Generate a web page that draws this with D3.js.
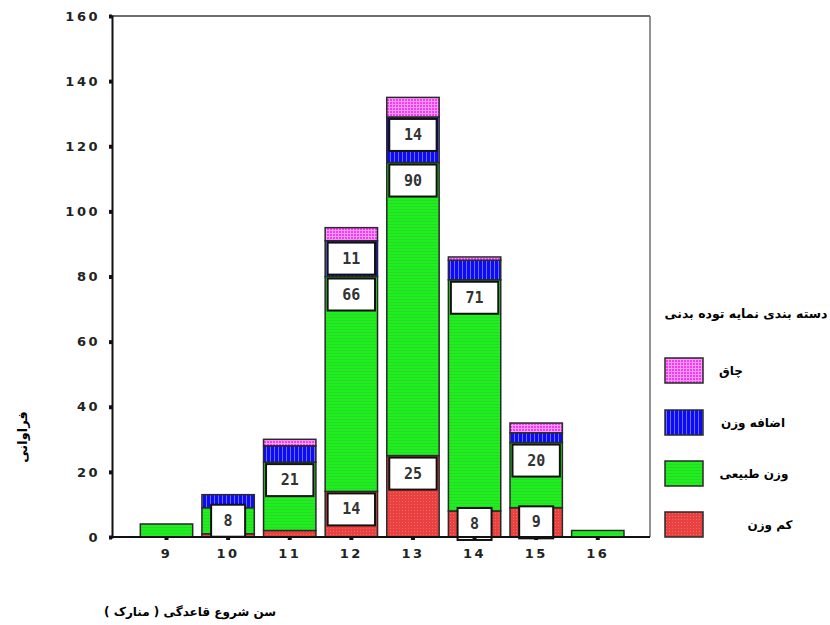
<!DOCTYPE html>
<html><head><meta charset="utf-8">
<script src="https://cdn.jsdelivr.net/npm/d3@7"></script>
<style>body{margin:0;background:#fff}svg{display:block}</style>
</head><body>
<svg id="c" width="830" height="625"></svg>
<script>
const categories = ["9","10","11","12","13","14","15","16"];
const underweight = [0, 1, 2, 14, 25, 8, 9, 0];
const normal      = [4, 8, 21, 66, 90, 71, 20, 2];
const overweight  = [0, 4, 5, 11, 14, 6, 3, 0];
const obese       = [0, 0, 2, 4, 6, 1, 3, 0];
const yTicks = [0,20,40,60,80,100,120,140,160];
const seriesNames = ["کم وزن","وزن طبیعی","اضافه وزن","چاق"];
const legendTitle = "دسته بندی نمایه توده بدنی";
const xTitle = "سن شروع قاعدگی ( منارک )";
const yTitle = "فراوانی";

const svg = d3.select("#c");
const L = 112, R = 650, T = 16, B = 537;
const y = d3.scaleLinear().domain([0,160]).range([B,T]);
const x = d3.scaleBand().domain(categories).range([135.7,628.6]).paddingInner(0.15).paddingOuter(0.075);

// patterns
const defs = svg.append("defs");
function pat(id, w, h, base, draw){
  const p = defs.append("pattern").attr("id",id).attr("patternUnits","userSpaceOnUse").attr("width",w).attr("height",h);
  p.append("rect").attr("width",w).attr("height",h).attr("fill",base);
  draw(p);
}
pat("pRed",3,3,"#e8413f",p=>{p.append("rect").attr("x",0).attr("y",0).attr("width",1).attr("height",1).attr("fill","#f06a66");});
pat("pGreen",3,3,"#1ef01e",p=>{p.append("rect").attr("x",0).attr("y",2).attr("width",3).attr("height",1).attr("fill","#2ad82a");});
pat("pBlue",4,3,"#0b0bf4",p=>{p.append("rect").attr("x",2).attr("y",0).attr("width",1).attr("height",3).attr("fill","#6c6cff");});
pat("pMag",3,3,"#f23cf2",p=>{p.append("rect").attr("x",2).attr("y",0).attr("width",1).attr("height",3).attr("fill","#ff99ff");p.append("rect").attr("x",0).attr("y",2).attr("width",3).attr("height",1).attr("fill","#ff99ff");});
const fills = ["url(#pRed)","url(#pGreen)","url(#pBlue)","url(#pMag)"];

// frame
svg.append("line").attr("x1",L).attr("x2",R).attr("y1",T).attr("y2",T).attr("stroke","#6f6f6f").attr("stroke-width",2);
svg.append("line").attr("x1",R).attr("x2",R).attr("y1",T).attr("y2",B).attr("stroke","#6f6f6f").attr("stroke-width",1.5);

// stacked data
const rows = categories.map((c,i)=>({cat:c, s0:underweight[i], s1:normal[i], s2:overweight[i], s3:obese[i]}));
const stack = d3.stack().keys(["s0","s1","s2","s3"])(rows);

const g = svg.append("g");
stack.forEach((layer,k)=>{
  g.selectAll(null).data(layer.filter(d=>d[1]-d[0]>0)).enter().append("rect")
    .attr("x",d=>x(d.data.cat)).attr("width",x.bandwidth())
    .attr("y",d=>y(d[1])).attr("height",d=>y(d[0])-y(d[1]))
    .attr("fill",fills[k]).attr("stroke","#2a2a2a").attr("stroke-width",1.5);
});

// value boxes
const boxH = 32;
stack.forEach((layer,k)=>{
  layer.forEach(d=>{
    const v = d[1]-d[0];
    if (v < 8) return;
    const top = y(d[1]), bot = y(d[0]);
    const txt = String(v);
    const w = txt.length>1 ? x.bandwidth()-5 : 34;
    let by = (bot-top) >= boxH+4 ? top+2 : (top+bot)/2 - boxH/2;
    const cx = x(d.data.cat)+x.bandwidth()/2;
    g.append("rect").attr("x",cx-w/2).attr("y",by).attr("width",w).attr("height",boxH)
      .attr("fill","#fff").attr("stroke","#111").attr("stroke-width",2);
    g.append("text").attr("x",cx).attr("y",by+boxH/2+5).attr("text-anchor","middle")
      .attr("font-family","DejaVu Sans Mono, monospace").attr("font-weight","bold").attr("font-size",15)
      .attr("fill","#333").text(txt);
  });
});

// axes
const ya = svg.append("g").attr("transform",`translate(${L},0)`)
  .call(d3.axisLeft(y).tickValues(yTicks).tickSize(3).tickPadding(9));
ya.select(".domain").attr("stroke","#111").attr("stroke-width",2);
ya.selectAll(".tick line").attr("stroke","#111").attr("stroke-width",4);
ya.selectAll(".tick text").attr("font-family","DejaVu Sans, sans-serif").attr("font-weight","bold")
  .attr("font-size",13).attr("letter-spacing","2.5px").attr("fill","#222");

const xa = svg.append("g").attr("transform",`translate(0,${B})`)
  .call(d3.axisBottom(x).tickSize(3).tickPadding(9).tickSizeOuter(0));
xa.select(".domain").remove();
svg.append("line").attr("x1",L).attr("x2",R).attr("y1",B).attr("y2",B).attr("stroke","#111").attr("stroke-width",2);
xa.selectAll(".tick line").attr("stroke","#111").attr("stroke-width",4);
xa.selectAll(".tick text").attr("font-family","DejaVu Sans, sans-serif").attr("font-weight","bold")
  .attr("font-size",13).attr("letter-spacing","2.5px").attr("fill","#222");

// titles
svg.append("text").attr("x",190).attr("y",616).attr("text-anchor","middle")
  .attr("font-family","DejaVu Sans, sans-serif").attr("font-weight","bold").attr("font-size",12)
  .attr("direction","rtl").text(xTitle);
svg.append("text").attr("transform","translate(27,437) rotate(-90)").attr("text-anchor","middle")
  .attr("font-family","DejaVu Sans, sans-serif").attr("font-weight","bold").attr("font-size",13)
  .attr("direction","rtl").text(yTitle);

// legend
svg.append("text").attr("x",746).attr("y",318).attr("text-anchor","middle")
  .attr("font-family","DejaVu Sans, sans-serif").attr("font-weight","bold").attr("font-size",12.5)
  .attr("direction","rtl").text(legendTitle);
const legY = [512, 461, 410, 358];
const legLabelX = [770, 754, 753, 731];
seriesNames.forEach((n,k)=>{
  svg.append("rect").attr("x",665).attr("y",legY[k]).attr("width",38).attr("height",25)
    .attr("fill",fills[k]).attr("stroke","#2a2a2a").attr("stroke-width",1.5);
  svg.append("text").attr("x",legLabelX[k]).attr("y",legY[k]+17).attr("text-anchor","middle")
    .attr("font-family","DejaVu Sans, sans-serif").attr("font-weight","bold").attr("font-size",12)
    .attr("direction","rtl").text(n);
});
</script>
</body></html>
